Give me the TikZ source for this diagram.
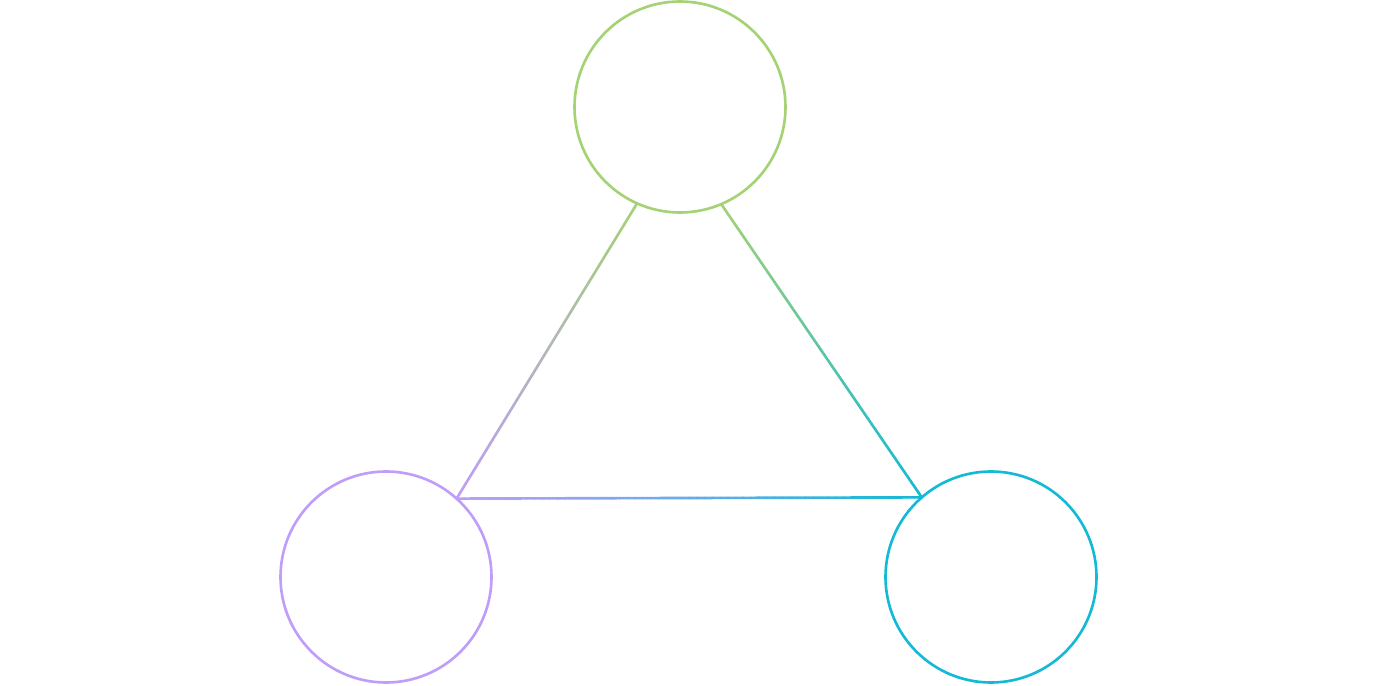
\documentclass[tikz,border=0pt]{standalone}
\usepackage{xcolor}
\usetikzlibrary{calc}
\definecolor{topgreen}{HTML}{A4D274}
\definecolor{leftlilac}{HTML}{BE9EFA}
\definecolor{rightcyan}{HTML}{12BAD5}
\tikzset{
  hub/.style  = {circle, draw, fill=none, minimum size=4.22cm, inner sep=0pt, outer sep=0pt, line width=1.5pt},
  link/.style = {line width=1.5pt, line cap=round},
}
\newcommand{\gradlink}[4]{%
  \foreach \i in {1,...,60} {
    \pgfmathsetmacro{\p}{100*(\i-0.5)/60}
    \draw[link, draw={#4!\p!#3}] ($(#1)!{(\i-1)/60}!(#2)$) -- ($(#1)!{\i/60}!(#2)$);
  }%
}

\begin{document}
\begin{tikzpicture}
  \useasboundingbox (0,0) rectangle (27.7,13.7);

  % three hubs
  \node[hub, draw=topgreen]   (top)   at (13.6,11.56) {};
  \node[hub, draw=leftlilac]  (left)  at (7.72,2.16) {};
  \node[hub, draw=rightcyan]  (right) at (19.82,2.16) {};

  % edges of the triangle
  \coordinate (tl) at (top.246.3);
  \coordinate (tr) at (top.293.7);
  \coordinate (lc) at (left.48.8);
  \coordinate (rc) at (right.131.2);
  \gradlink{tl}{lc}{topgreen}{leftlilac}
  \gradlink{tr}{rc}{topgreen}{rightcyan}
  \gradlink{lc}{rc}{leftlilac}{rightcyan}
\end{tikzpicture}
\end{document}
